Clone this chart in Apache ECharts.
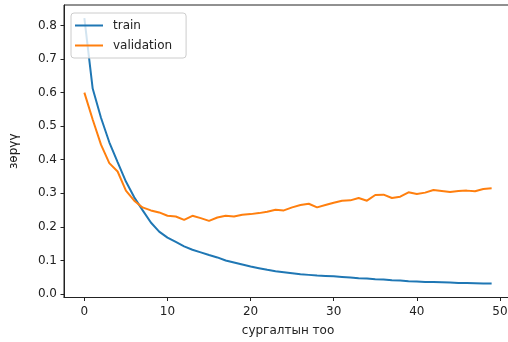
<!DOCTYPE html>
<html>
<head>
<meta charset="utf-8">
<script src="https://cdn.jsdelivr.net/npm/echarts@6/dist/echarts.min.js"></script>
<style>
  html, body { margin: 0; padding: 0; background: #fff; }
  #chart { width: 508px; height: 342px; }
</style>
</head>
<body>
<div id="chart"></div>
<script>
// эпох бүрийн алдагдал (зургаас уншсан)
const trainLoss = [
  0.822, 0.612, 0.525, 0.452, 0.393, 0.335, 0.288, 0.250, 0.213, 0.186,
  0.168, 0.155, 0.142, 0.132, 0.124, 0.116, 0.109, 0.100, 0.094, 0.088,
  0.082, 0.077, 0.072, 0.068, 0.065, 0.062, 0.059, 0.057, 0.055, 0.054,
  0.053, 0.051, 0.049, 0.047, 0.046, 0.044, 0.043, 0.041, 0.040, 0.038,
  0.037, 0.036, 0.036, 0.035, 0.034, 0.033, 0.033, 0.032, 0.031, 0.031
]
const valLoss = [
  0.600, 0.520, 0.445, 0.390, 0.365, 0.308, 0.278, 0.258, 0.249, 0.243,
  0.233, 0.231, 0.221, 0.233, 0.226, 0.218, 0.228, 0.233, 0.231, 0.236,
  0.238, 0.241, 0.245, 0.251, 0.249, 0.258, 0.265, 0.269, 0.258, 0.265,
  0.272, 0.278, 0.279, 0.286, 0.278, 0.295, 0.296, 0.286, 0.290, 0.303,
  0.298, 0.302, 0.310, 0.307, 0.304, 0.307, 0.308, 0.306, 0.313, 0.315
]
const xTicks = [0, 10, 20, 30, 40, 50]
const yTicks = [0, 0.1, 0.2, 0.3, 0.4, 0.5, 0.6, 0.7, 0.8]

const chart = echarts.init(document.getElementById('chart'))

const font = 'DejaVu Sans'
const textColor = '#222'

const option = {
  animation: false,
  grid: {
    left: 64,
    top: 5,
    width: 448,    // баруун хүрээ зургаас гадуур тасарсан
    bottom: 44.5,
    outerBoundsMode: 'none',
    show: true,
    borderColor: '#222',
    borderWidth: 1
  },
  legend: {
    orient: 'vertical',
    left: 71,
    top: 13,
    padding: [5, 14, 5, 4],
    itemGap: 5,
    icon: 'rect',
    itemWidth: 28,
    itemHeight: 2,
    backgroundColor: 'rgba(255,255,255,0.8)',
    borderColor: '#ccc',
    borderWidth: 1,
    borderRadius: 3,
    textStyle: {
      fontFamily: font,
      fontSize: 12,
      lineHeight: 14,
      color: textColor,
      padding: [1, 0, 0, 5]
    },
    data: ['train', 'validation']
  },
  xAxis: {
    type: 'value',
    min: -2.45,
    max: 51.45,
    name: 'сургалтын тоо',
    nameLocation: 'middle',
    nameGap: 27,
    nameTextStyle: { fontFamily: font, fontSize: 12, color: textColor },
    axisLine: { show: true, onZero: false, lineStyle: { color: '#222', width: 1 } },
    axisTick: { show: true, length: 3.5, lineStyle: { color: '#222' }, customValues: xTicks },
    axisLabel: { fontFamily: font, fontSize: 12, color: textColor, margin: 8, customValues: xTicks },
    splitLine: { show: false }
  },
  yAxis: {
    type: 'value',
    min: -0.0104,
    max: 0.861,
    name: 'зөрүү',
    nameLocation: 'middle',
    nameGap: 44,
    nameTextStyle: { fontFamily: font, fontSize: 12, color: textColor },
    axisLine: { show: true, onZero: false, lineStyle: { color: '#222', width: 1 } },
    axisTick: { show: true, length: 3.5, lineStyle: { color: '#222' }, customValues: yTicks },
    axisLabel: {
      fontFamily: font, fontSize: 12, color: textColor, margin: 7,
      customValues: yTicks,
      formatter: v => v.toFixed(1)
    },
    splitLine: { show: false }
  },
  series: [
    {
      name: 'train',
      type: 'line',
      symbol: 'none',
      data: trainLoss.map((v, i) => [i, v]),
      lineStyle: { color: '#1f77b4', width: 2 },
      itemStyle: { color: '#1f77b4' }
    },
    {
      name: 'validation',
      type: 'line',
      symbol: 'none',
      data: valLoss.map((v, i) => [i, v]),
      lineStyle: { color: '#ff7f0e', width: 2 },
      itemStyle: { color: '#ff7f0e' }
    }
  ]
}

chart.setOption(option)
</script>
</body>
</html>
